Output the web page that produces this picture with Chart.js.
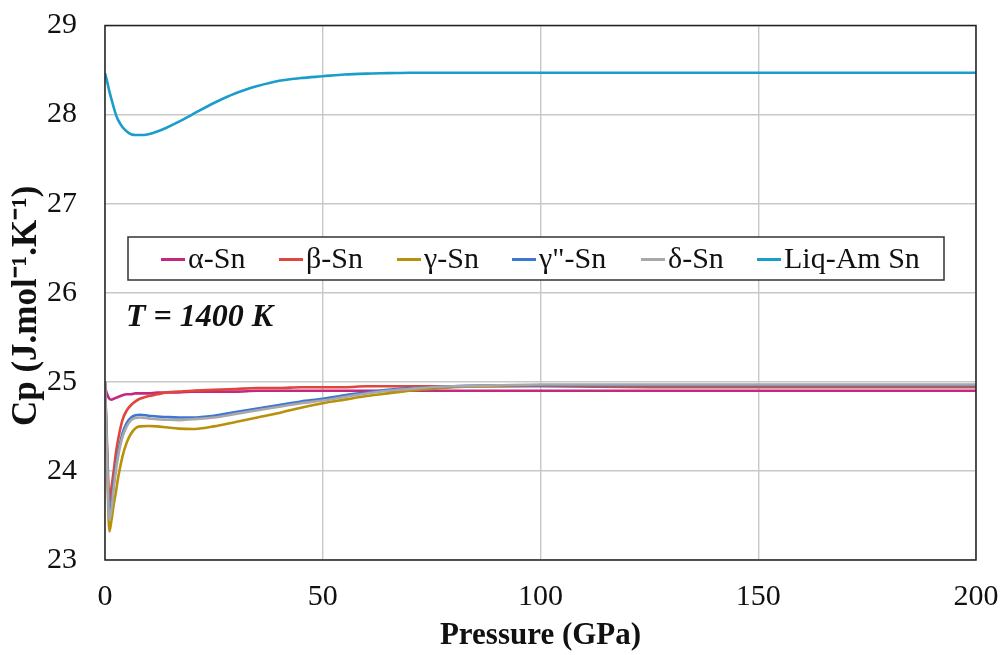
<!DOCTYPE html>
<html>
<head>
<meta charset="utf-8">
<script src="https://cdn.jsdelivr.net/npm/chart.js@4.4.1/dist/chart.umd.min.js"></script>
<style>
  html, body { margin: 0; padding: 0; background: #fff; }
  #wrap { width: 1003px; height: 655px; }
</style>
</head>
<body>
<div id="wrap"><canvas id="myChart"></canvas></div>
<script>
const pressure = [0, 0.5, 1, 1.5, 2, 2.5, 3, 4, 5, 6, 7, 8, 10, 12, 14, 17, 20, 25, 30, 35,
  40, 45, 50, 55, 60, 65, 70, 75, 80, 90, 100, 125, 150, 175, 200];

const alphaSn = [24.94, 24.86, 24.81, 24.80, 24.81, 24.82, 24.83, 24.85, 24.86, 24.86, 24.87, 24.87,
  24.87, 24.88, 24.88, 24.88, 24.89, 24.89, 24.89, 24.90, 24.90, 24.90, 24.90, 24.90, 24.90, 24.90,
  24.90, 24.90, 24.90, 24.90, 24.90, 24.90, 24.90, 24.90, 24.90];
const betaSn = [25.0, 24.25, 23.64, 23.82, 24.0, 24.2, 24.35, 24.57, 24.68, 24.74, 24.78, 24.81,
  24.84, 24.86, 24.88, 24.89, 24.90, 24.91, 24.92, 24.93, 24.93, 24.94, 24.94, 24.94, 24.95, 24.95,
  24.95, 24.95, 24.95, 24.95, 24.95, 24.94, 24.94, 24.94, 24.94];
const gammaSn = [25.0, 24.05, 23.32, 23.45, 23.62, 23.76, 23.92, 24.16, 24.32, 24.42, 24.48, 24.50,
  24.505, 24.50, 24.49, 24.475, 24.47, 24.50, 24.55, 24.60, 24.65, 24.71, 24.76, 24.80, 24.84, 24.87,
  24.90, 24.92, 24.94, 24.95, 24.96, 24.96, 24.96, 24.96, 24.96];
const gamma2Sn = [25.0, 24.15, 23.52, 23.64, 23.86, 24.05, 24.2, 24.42, 24.54, 24.60, 24.625, 24.63,
  24.62, 24.61, 24.605, 24.60, 24.60, 24.62, 24.66, 24.70, 24.74, 24.78, 24.81, 24.85, 24.88, 24.91,
  24.93, 24.94, 24.95, 24.96, 24.96, 24.96, 24.96, 24.96, 24.96];
const deltaSn = [25.0, 24.1, 23.45, 23.57, 23.8, 24.0, 24.16, 24.38, 24.50, 24.57, 24.595, 24.60,
  24.59, 24.58, 24.575, 24.57, 24.58, 24.60, 24.64, 24.68, 24.72, 24.76, 24.79, 24.83, 24.87, 24.90,
  24.92, 24.94, 24.95, 24.96, 24.97, 24.97, 24.97, 24.97, 24.97];
const liqSn = [28.465, 28.37, 28.26, 28.17, 28.08, 28.0, 27.94, 27.86, 27.81, 27.78, 27.77, 27.77,
  27.78, 27.81, 27.85, 27.92, 28.0, 28.13, 28.24, 28.32, 28.38, 28.41, 28.43, 28.45, 28.46, 28.465,
  28.47, 28.47, 28.47, 28.47, 28.47, 28.47, 28.47, 28.47, 28.47];

const seriesNames = ['α-Sn', 'β-Sn', 'γ-Sn', 'γ"-Sn', 'δ-Sn', 'Liq-Am Sn'];
const seriesValues = [alphaSn, betaSn, gammaSn, gamma2Sn, deltaSn, liqSn];
const seriesColors = ['#C2297F', '#E0463C', '#B8900C', '#3F76D2', '#A8A8A8', '#1B9DCB'];

const xTicks = [0, 50, 100, 150, 200];
const yTicks = [23, 24, 25, 26, 27, 28, 29];

const serif = '"Liberation Serif", "Times New Roman", serif';

// draw order: grey and blue below, alpha and beta on top
const order = [4, 3, 2, 1, 0, 5];
const datasets = order.map(i => ({
  label: seriesNames[i],
  data: pressure.map((p, k) => ({ x: p, y: seriesValues[i][k] })),
  borderColor: seriesColors[i],
  backgroundColor: seriesColors[i],
  borderWidth: 2.6,
  pointRadius: 0,
  cubicInterpolationMode: 'monotone',
  fill: false
}));

const overlay = {
  id: 'overlay',
  afterDraw(chart) {
    const ctx = chart.ctx;
    const a = chart.chartArea;
    ctx.save();
    // plot frame
    ctx.strokeStyle = '#222';
    ctx.lineWidth = 1.5;
    ctx.strokeRect(a.left, a.top, a.right - a.left, a.bottom - a.top);

    // legend box
    const bx = 128, by = 237, bw = 816, bh = 43;
    ctx.fillStyle = '#fff';
    ctx.fillRect(bx, by, bw, bh);
    ctx.strokeStyle = '#333';
    ctx.lineWidth = 1.5;
    ctx.strokeRect(bx, by, bw, bh);
    ctx.font = '30px ' + serif;
    ctx.textBaseline = 'middle';
    ctx.textAlign = 'left';
    const starts = [161, 279, 397, 512, 641, 757];
    seriesNames.forEach((name, i) => {
      const x = starts[i], y = by + bh / 2 + 1;
      ctx.strokeStyle = seriesColors[i];
      ctx.lineWidth = 3;
      ctx.beginPath();
      ctx.moveTo(x, y);
      ctx.lineTo(x + 24, y);
      ctx.stroke();
      ctx.fillStyle = '#111';
      ctx.fillText(name, x + 27, y + 1);
    });

    // temperature label
    ctx.font = 'bold italic 32px ' + serif;
    ctx.fillStyle = '#111';
    ctx.fillText('T = 1400 K', 126, 318);
    ctx.restore();
  }
};

new Chart(document.getElementById('myChart'), {
  type: 'line',
  data: { datasets },
  options: {
    responsive: true,
    maintainAspectRatio: false,
    animation: false,
    layout: { padding: { top: 25.5, right: 27, left: 0, bottom: 0 } },
    plugins: {
      legend: { display: false },
      tooltip: { enabled: false }
    },
    scales: {
      x: {
        type: 'linear',
        min: 0,
        max: 200,
        afterBuildTicks: s => { s.ticks = xTicks.map(v => ({ value: v })); },
        afterFit: s => { s.height = 95; s.paddingLeft = 0; s.paddingRight = 0; },
        grid: { color: '#C8C8C8', lineWidth: 1.4, drawTicks: false },
        border: { display: false },
        ticks: { color: '#111', padding: 19, maxRotation: 0, font: { family: serif, size: 30 } },
        title: {
          display: true,
          text: 'Pressure (GPa)',
          color: '#111',
          padding: { top: 4, bottom: 0 },
          font: { family: serif, size: 31, weight: 'bold' }
        }
      },
      y: {
        min: 23,
        max: 29,
        afterBuildTicks: s => { s.ticks = yTicks.map(v => ({ value: v })); },
        afterFit: s => { s.width = 105; s.paddingTop = 0; s.paddingBottom = 0; },
        grid: { color: '#C8C8C8', lineWidth: 1.4, drawTicks: false },
        border: { display: false },
        ticks: { color: '#111', padding: 28, font: { family: serif, size: 30 } },
        title: {
          display: true,
          text: 'Cp (J.mol\u207B\u00B9.K\u207B\u00B9)\u00A0\u00A0\u00A0',
          color: '#111',
          padding: { top: 6, bottom: 0 },
          font: { family: serif, size: 35, weight: 'bold' }
        }
      }
    }
  },
  plugins: [overlay]
});
</script>
</body>
</html>
